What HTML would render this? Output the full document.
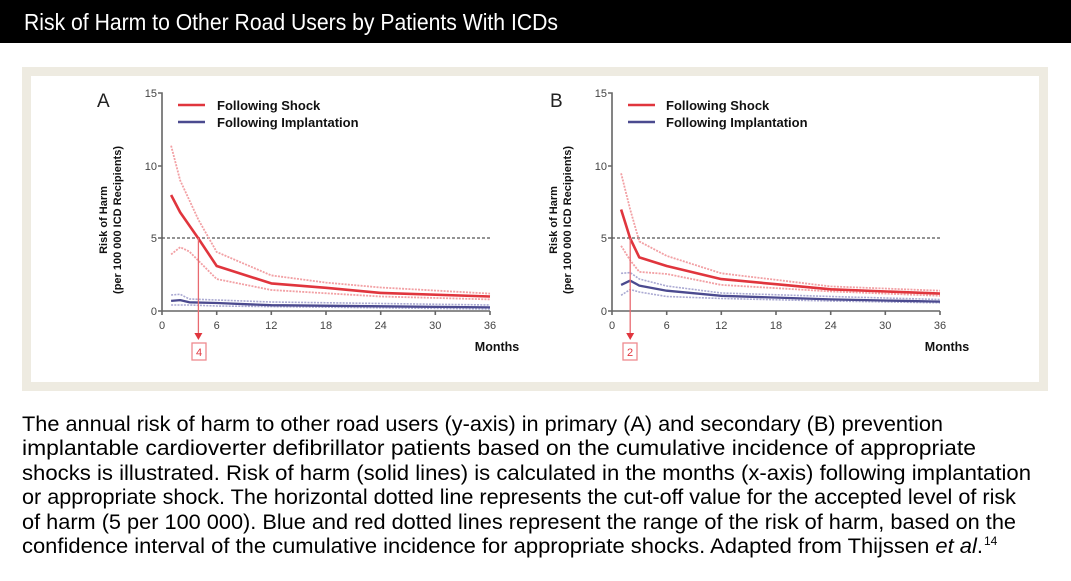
<!DOCTYPE html>
<html><head><meta charset="utf-8"><style>
html,body{margin:0;padding:0;background:#fff;width:1071px;height:581px;overflow:hidden}
</style></head><body>
<svg width="1071" height="581" xmlns="http://www.w3.org/2000/svg" font-family="Liberation Sans, Arial, sans-serif">
<rect x="0" y="0" width="1071" height="43" fill="#000"/>
<text x="24" y="30" fill="#fff" font-size="23" textLength="534" lengthAdjust="spacingAndGlyphs">Risk of Harm to Other Road Users by Patients With ICDs</text>
<rect x="22" y="67" width="1026" height="324" fill="#eeebe1"/>
<rect x="31" y="76" width="1008" height="306" fill="#fff"/>

<g id="A">
<text x="97" y="107" font-size="19" fill="#222">A</text>
<g font-size="11" fill="#444" text-anchor="end">
<text x="157" y="97">15</text><text x="157" y="170">10</text><text x="157" y="242">5</text><text x="157" y="315">0</text></g>
<path d="M158 93H162V311H490 M158 166H162 M158 238H162 M158 311H162 M162 311V315 M216.7 311V315 M271.3 311V315 M326 311V315 M380.7 311V315 M435.3 311V315 M490 311V315" stroke="#666" stroke-width="1.6" fill="none"/>
<g font-size="11" fill="#444" text-anchor="middle">
<text x="162" y="329">0</text><text x="216.7" y="329">6</text><text x="271.3" y="329">12</text><text x="326" y="329">18</text><text x="380.7" y="329">24</text><text x="435.3" y="329">30</text><text x="490" y="329">36</text></g>
<text x="497" y="351" font-size="12.5" font-weight="bold" text-anchor="middle" fill="#111">Months</text>
<g transform="translate(107,220) rotate(-90)" font-size="11" font-weight="bold" text-anchor="middle" fill="#111"><text x="0" y="0">Risk of Harm</text><text x="0" y="14">(per 100 000 ICD Recipients)</text></g>
<line x1="162" y1="238" x2="490" y2="238" stroke="#555" stroke-width="1.3" stroke-dasharray="3,2"/>
<line x1="178" y1="105" x2="205" y2="105" stroke="#e0353d" stroke-width="2.5"/>
<line x1="178" y1="122" x2="205" y2="122" stroke="#4b4a8f" stroke-width="2.5"/>
<text x="217" y="110" font-size="13" font-weight="bold" fill="#111">Following Shock</text>
<text x="217" y="127" font-size="13" font-weight="bold" fill="#111">Following Implantation</text>
<g fill="none" stroke-linejoin="round">
<polyline points="171.1,145.7 180.2,180.5 198.4,219.7 216.7,252 271.3,275.4 326,282.6 380.7,287.5 490,293.6" stroke="#f2a0a4" stroke-width="1.8" stroke-dasharray="2,1.2"/>
<polyline points="171.1,254.4 180.2,247.2 189.3,251.5 216.7,279.1 271.3,290 380.7,296.5 490,299.4" stroke="#f2a0a4" stroke-width="1.8" stroke-dasharray="2,1.2"/>
<polyline points="171.1,295 180.2,294.3 189.3,299 216.7,300 271.3,302 490,305" stroke="#aaa9d2" stroke-width="1.6" stroke-dasharray="2,1.2"/>
<polyline points="171.1,305 180.2,305 189.3,305 216.7,306 490,309" stroke="#aaa9d2" stroke-width="1.6" stroke-dasharray="2,1.2"/>
<polyline points="171.1,300.9 180.2,300.1 189.3,302.3 216.7,303 271.3,305.2 490,307.4" stroke="#4b4a8f" stroke-width="2.3"/>
<polyline points="171.1,195 180.2,212.4 198.4,238.5 216.7,266 271.3,283.4 326,287.8 380.7,292.9 490,296.5" stroke="#e0353d" stroke-width="2.6"/>
</g>
<line x1="198.4" y1="238" x2="198.4" y2="335" stroke="#e86a70" stroke-width="1.3"/>
<polygon points="194.4,333 202.4,333 198.4,340" fill="#e0353d"/>
<rect x="192" y="343" width="14" height="17" fill="#fff" stroke="#ef8a8f" stroke-width="1.3"/>
<text x="199" y="356" font-size="11" fill="#e0353d" text-anchor="middle">4</text>
</g>

<g id="B">
<text x="550" y="107" font-size="19" fill="#222">B</text>
<g font-size="11" fill="#444" text-anchor="end">
<text x="607" y="97">15</text><text x="607" y="170">10</text><text x="607" y="242">5</text><text x="607" y="315">0</text></g>
<path d="M608 93H612V311H940 M608 166H612 M608 238H612 M608 311H612 M612 311V315 M666.7 311V315 M721.3 311V315 M776 311V315 M830.7 311V315 M885.3 311V315 M940 311V315" stroke="#666" stroke-width="1.6" fill="none"/>
<g font-size="11" fill="#444" text-anchor="middle">
<text x="612" y="329">0</text><text x="666.7" y="329">6</text><text x="721.3" y="329">12</text><text x="776" y="329">18</text><text x="830.7" y="329">24</text><text x="885.3" y="329">30</text><text x="940" y="329">36</text></g>
<text x="947" y="351" font-size="12.5" font-weight="bold" text-anchor="middle" fill="#111">Months</text>
<g transform="translate(557,220) rotate(-90)" font-size="11" font-weight="bold" text-anchor="middle" fill="#111"><text x="0" y="0">Risk of Harm</text><text x="0" y="14">(per 100 000 ICD Recipients)</text></g>
<line x1="612" y1="238" x2="940" y2="238" stroke="#555" stroke-width="1.3" stroke-dasharray="3,2"/>
<line x1="628" y1="105" x2="655" y2="105" stroke="#e0353d" stroke-width="2.5"/>
<line x1="628" y1="122" x2="655" y2="122" stroke="#4b4a8f" stroke-width="2.5"/>
<text x="666" y="110" font-size="13" font-weight="bold" fill="#111">Following Shock</text>
<text x="666" y="127" font-size="13" font-weight="bold" fill="#111">Following Implantation</text>
<g fill="none" stroke-linejoin="round">
<polyline points="621.1,173.3 630.2,209.5 639.3,241.4 666.7,255.9 721.3,273.3 830.7,286.4 940,290.7" stroke="#f2a0a4" stroke-width="1.8" stroke-dasharray="2,1.2"/>
<polyline points="621.1,245.8 630.2,260.3 639.3,271.9 666.7,274 721.3,284.9 830.7,291.4 940,295.8" stroke="#f2a0a4" stroke-width="1.8" stroke-dasharray="2,1.2"/>
<polyline points="621.1,273.3 630.2,272.6 639.3,279 666.7,286 721.3,293 830.7,296.5 940,299.5" stroke="#aaa9d2" stroke-width="1.6" stroke-dasharray="2,1.2"/>
<polyline points="621.1,295.3 630.2,289.5 639.3,292 666.7,296.5 721.3,298.5 830.7,301 940,302.8" stroke="#aaa9d2" stroke-width="1.6" stroke-dasharray="2,1.2"/>
<polyline points="621.1,284.9 630.2,280.6 639.3,285.6 666.7,290.7 721.3,295.8 830.7,299.4 940,301.6" stroke="#4b4a8f" stroke-width="2.3"/>
<polyline points="621.1,209.5 630.2,238.5 639.3,257.4 666.7,266 721.3,279.1 776,284.2 830.7,289.3 940,293.6" stroke="#e0353d" stroke-width="2.6"/>
</g>
<line x1="630.2" y1="238" x2="630.2" y2="335" stroke="#e86a70" stroke-width="1.3"/>
<polygon points="626.2,333 634.2,333 630.2,340" fill="#e0353d"/>
<rect x="623" y="343" width="14" height="17" fill="#fff" stroke="#ef8a8f" stroke-width="1.3"/>
<text x="630" y="356" font-size="11" fill="#e0353d" text-anchor="middle">2</text>
</g>

<g font-size="21" fill="#000">
<text x="22" y="431" textLength="921" lengthAdjust="spacingAndGlyphs">The annual risk of harm to other road users (y-axis) in primary (A) and secondary (B) prevention</text>
<text x="22" y="455" textLength="954" lengthAdjust="spacingAndGlyphs">implantable cardioverter defibrillator  patients  based  on  the  cumulative  incidence  of  appropriate</text>
<text x="22" y="480" textLength="1009" lengthAdjust="spacingAndGlyphs">shocks  is  illustrated.  Risk of harm (solid lines) is calculated in the months (x-axis) following implantation</text>
<text x="22" y="504" textLength="994" lengthAdjust="spacingAndGlyphs">or appropriate shock. The horizontal dotted line represents the cut-off value for the accepted level of risk</text>
<text x="22" y="529" textLength="994" lengthAdjust="spacingAndGlyphs">of harm (5 per 100 000). Blue and red dotted lines represent the range of the risk of harm, based on the</text>
<text x="22" y="553" textLength="961" lengthAdjust="spacingAndGlyphs">confidence interval of the cumulative incidence for appropriate shocks. Adapted from Thijssen <tspan font-style="italic">et al</tspan>.</text>
<text x="984" y="545" font-size="12">14</text>
</g>
</svg>
</body></html>
